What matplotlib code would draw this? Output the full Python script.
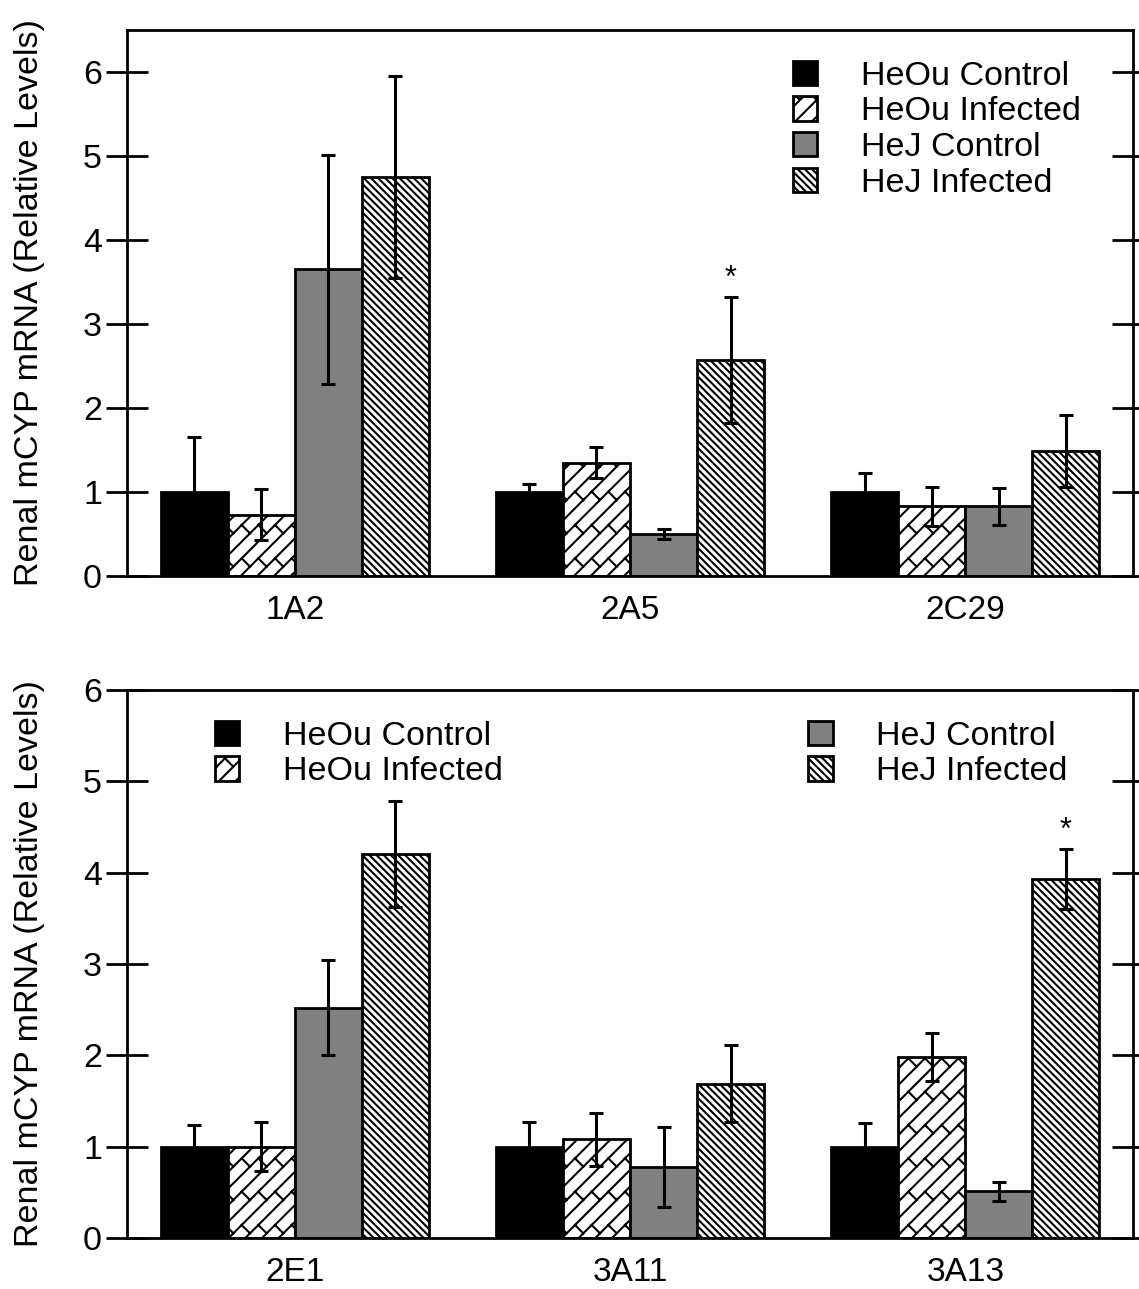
import matplotlib
matplotlib.use('Agg')
import matplotlib.pyplot as plt
import matplotlib.hatch as mhatch
from matplotlib.path import Path
from matplotlib.patches import Patch
import numpy as np

plt.rcParams['font.family'] = ['Liberation Sans', 'DejaVu Sans']
plt.rcParams['hatch.linewidth'] = 1.5

# ---- data ----
top_genes = ['1A2', '2A5', '2C29']
bot_genes = ['2E1', '3A11', '3A13']
groups = ['HeOu Control', 'HeOu Infected', 'HeJ Control', 'HeJ Infected']

top_means = {
    'HeOu Control':  [1.00, 1.00, 1.00],
    'HeOu Infected': [0.73, 1.35, 0.83],
    'HeJ Control':   [3.65, 0.50, 0.83],
    'HeJ Infected':  [4.75, 2.57, 1.49],
}
top_err = {
    'HeOu Control':  [0.66, 0.09, 0.23],
    'HeOu Infected': [0.30, 0.18, 0.23],
    'HeJ Control':   [1.36, 0.06, 0.22],
    'HeJ Infected':  [1.20, 0.75, 0.43],
}
bot_means = {
    'HeOu Control':  [1.00, 1.00, 1.00],
    'HeOu Infected': [1.00, 1.08, 1.98],
    'HeJ Control':   [2.52, 0.78, 0.51],
    'HeJ Infected':  [4.20, 1.69, 3.93],
}
bot_err = {
    'HeOu Control':  [0.24, 0.27, 0.26],
    'HeOu Infected': [0.27, 0.29, 0.26],
    'HeJ Control':   [0.52, 0.44, 0.10],
    'HeJ Infected':  [0.58, 0.42, 0.33],
}
top_stars = [(1, 'HeJ Infected')]
bot_stars = [(2, 'HeJ Infected')]


# ---- custom hatches: 'b' diagonal brick, 'k' dense back-diagonal ----
class BrickHatch(mhatch.HatchPatternBase):
    n = 6   # lines per unit
    m = 3   # bricks per unit along x

    def __init__(self, hatch, density):
        self.on = 'b' in hatch
        if self.on:
            self.lines = list(range(-self.n, self.n + 1))
            self.segs = [(k, j) for k in range(-self.n, self.n)
                         for j in range(-self.m, 2 * self.m)]
            self.num_vertices = 2 * (len(self.lines) + len(self.segs))
        else:
            self.num_vertices = 0

    def set_vertices_and_codes(self, vertices, codes):
        n, m = self.n, self.m
        i = 0
        for k in self.lines:
            c = k / n
            vertices[i] = (-0.2, -0.2 + c)
            vertices[i + 1] = (1.2, 1.2 + c)
            i += 2
        for k, j in self.segs:
            t = j / m + (k % 2) * 0.5 / m
            c = k / n
            vertices[i] = (t, t + c)
            vertices[i + 1] = (t - 0.5 / n, t + c + 0.5 / n)
            i += 2
        codes[0::2] = Path.MOVETO
        codes[1::2] = Path.LINETO


class DenseBackHatch(mhatch.HatchPatternBase):
    n = 14

    def __init__(self, hatch, density):
        self.num_vertices = 2 * (2 * self.n + 1) if 'k' in hatch else 0

    def set_vertices_and_codes(self, vertices, codes):
        for i, k in enumerate(range(-self.n, self.n + 1)):
            c = k / self.n
            vertices[2 * i] = (-0.2, 1.2 + c)
            vertices[2 * i + 1] = (1.2, -0.2 + c)
        codes[0::2] = Path.MOVETO
        codes[1::2] = Path.LINETO


mhatch._hatch_types.append(BrickHatch)
mhatch._hatch_types.append(DenseBackHatch)

styles = {
    'HeOu Control':  dict(facecolor='black', hatch=None),
    'HeOu Infected': dict(facecolor='white', hatch='b'),
    'HeJ Control':   dict(facecolor='#808080', hatch=None),
    'HeJ Infected':  dict(facecolor='white', hatch='k'),
}

W, H = 1139, 1289
fig = plt.figure(figsize=(W / 100, H / 100), dpi=100)
ax_top = fig.add_axes([127 / W, 1 - 576 / H, 1006 / W, 546 / H])
ax_bot = fig.add_axes([127 / W, 1 - 1238 / H, 1006 / W, 548 / H])

width = 0.2
FS = 24.5


def draw_panel(ax, genes, means, errs, stars, ymax):
    x = np.arange(len(genes))
    for i, g in enumerate(groups):
        pos = x + (i - 1.5) * width
        ax.bar(pos, means[g], width, color=styles[g]['facecolor'],
               hatch=styles[g]['hatch'], edgecolor='black', linewidth=2,
               label=g, zorder=2)
        ax.errorbar(pos, means[g], yerr=errs[g], fmt='none', ecolor='black',
                    elinewidth=2.2, capsize=5, capthick=2.2, zorder=3)
    for gi, g in stars:
        i = groups.index(g)
        xs = x[gi] + (i - 1.5) * width
        ax.annotate('*', xy=(xs, means[g][gi] + errs[g][gi]), xytext=(0, 2),
                    textcoords='offset points', ha='center', va='bottom',
                    fontsize=22)
    ax.set_xlim(-0.5, len(genes) - 0.5)
    ax.set_ylim(0, ymax)
    ax.set_xticks(x)
    ax.set_xticklabels(genes, fontsize=24)
    ax.set_yticks(range(0, 7))
    ax.tick_params(axis='x', length=0, pad=14)
    ax.tick_params(axis='y', direction='inout', length=30, width=2,
                   labelsize=FS, right=True, pad=3)
    for s in ax.spines.values():
        s.set_linewidth(2)
    ax.set_ylabel('Renal mCYP mRNA (Relative Levels)', fontsize=FS)
    ax.yaxis.set_label_coords(-0.082, 0.5)


draw_panel(ax_top, top_genes, top_means, top_err, top_stars, 6.5)
draw_panel(ax_bot, bot_genes, bot_means, bot_err, bot_stars, 6.0)


def handles(names):
    return [Patch(facecolor=styles[g]['facecolor'], hatch=styles[g]['hatch'],
                  edgecolor='black', linewidth=2, label=g) for g in names]


leg_kw = dict(frameon=False, fontsize=FS, handlelength=0.72, handleheight=0.72,
              handletextpad=1.28, labelspacing=0.14, borderpad=0,
              borderaxespad=0, loc='upper left')

ax_top.legend(handles=handles(groups), bbox_to_anchor=(0.662, 0.944), **leg_kw)

l1 = ax_bot.legend(handles=handles(groups[:2]), bbox_to_anchor=(0.087, 0.944), **leg_kw)
ax_bot.add_artist(l1)
ax_bot.legend(handles=handles(groups[2:]), bbox_to_anchor=(0.677, 0.944), **leg_kw)

fig.savefig('out.png', dpi=100)
